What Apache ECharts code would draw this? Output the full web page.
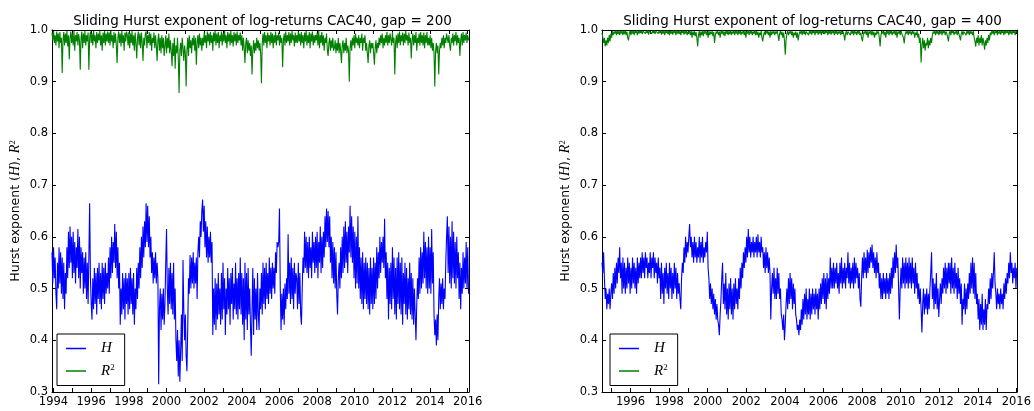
<!DOCTYPE html>
<html><head><meta charset="utf-8">
<script src="https://cdn.jsdelivr.net/npm/echarts@6/dist/echarts.min.js"></script>
<style>html,body{margin:0;padding:0;background:#fff}#c{width:1034px;height:411px}</style>
</head><body><div id="c"></div>
<script>
// time grid: first sample (decimal year) and half-month step
const start200 = 1993.92;
const start400 = 1994.52;
const stepYears = 1 / 24;
const titles = ['Sliding Hurst exponent of log-returns CAC40, gap = 200',
                'Sliding Hurst exponent of log-returns CAC40, gap = 400'];
const seriesNames = ['H', 'R2'];

// Hurst exponent, gap = 200 (one row per year, starting 1993.92)
const h200 = [
 0.57,0.51,0.58,0.52,0.56,0.49,0.46,0.55,0.50,0.58,0.51,0.57,0.49,0.56,0.48,0.55,0.46,0.53,0.49,0.58,0.52,0.61,0.54,0.62,
 0.55,0.60,0.52,0.61,0.53,0.59,0.51,0.58,0.54,0.615,0.52,0.60,0.50,0.58,0.53,0.57,0.49,0.56,0.50,0.57,0.48,0.55,0.47,0.56,
 0.665,0.52,0.47,0.44,0.52,0.46,0.54,0.47,0.53,0.45,0.54,0.48,0.55,0.47,0.53,0.46,0.55,0.48,0.54,0.47,0.55,0.49,0.53,0.50,
 0.56,0.49,0.58,0.52,0.60,0.53,0.59,0.55,0.625,0.54,0.61,0.52,0.58,0.50,0.55,0.43,0.50,0.45,0.53,0.46,0.52,0.44,0.53,0.47,
 0.52,0.45,0.53,0.46,0.54,0.47,0.52,0.45,0.53,0.43,0.50,0.46,0.54,0.48,0.55,0.50,0.58,0.52,0.60,0.54,0.62,0.56,0.63,0.58,
 0.665,0.59,0.66,0.58,0.64,0.56,0.60,0.53,0.57,0.51,0.56,0.52,0.57,0.51,0.55,0.52,0.315,0.46,0.50,0.42,0.49,0.44,0.50,0.43,
 0.47,0.55,0.615,0.50,0.45,0.54,0.47,0.55,0.46,0.53,0.45,0.55,0.44,0.50,0.40,0.36,0.42,0.33,0.40,0.32,0.38,0.45,0.36,0.555,
 0.46,0.40,0.45,0.37,0.34,0.42,0.52,0.49,0.565,0.50,0.56,0.51,0.57,0.50,0.55,0.51,0.56,0.48,0.57,0.60,0.56,0.63,0.60,0.65,
 0.672,0.61,0.66,0.58,0.63,0.56,0.62,0.55,0.60,0.56,0.61,0.55,0.59,0.41,0.50,0.43,0.52,0.42,0.51,0.44,0.53,0.45,0.50,0.43,
 0.53,0.44,0.55,0.46,0.52,0.41,0.50,0.45,0.54,0.46,0.52,0.43,0.53,0.47,0.54,0.44,0.51,0.46,0.55,0.45,0.52,0.44,0.53,0.46,
 0.56,0.45,0.53,0.43,0.52,0.40,0.55,0.44,0.53,0.42,0.54,0.45,0.50,0.43,0.37,0.46,0.54,0.41,0.52,0.44,0.50,0.42,0.53,0.45,
 0.42,0.50,0.46,0.53,0.45,0.55,0.47,0.54,0.46,0.55,0.48,0.53,0.47,0.56,0.49,0.54,0.48,0.55,0.50,0.54,0.49,0.57,0.53,0.59,
 0.58,0.59,0.655,0.50,0.42,0.49,0.44,0.50,0.43,0.51,0.46,0.52,0.48,0.605,0.49,0.55,0.47,0.56,0.48,0.54,0.46,0.55,0.49,0.53,
 0.52,0.46,0.55,0.47,0.53,0.45,0.43,0.50,0.56,0.53,0.61,0.54,0.60,0.53,0.59,0.52,0.60,0.54,0.58,0.52,0.61,0.55,0.59,0.53,
 0.60,0.54,0.61,0.52,0.59,0.55,0.62,0.53,0.60,0.54,0.61,0.56,0.64,0.58,0.655,0.59,0.65,0.58,0.64,0.55,0.60,0.52,0.59,0.51,
 0.58,0.50,0.57,0.49,0.45,0.52,0.55,0.50,0.58,0.52,0.60,0.53,0.62,0.54,0.63,0.55,0.61,0.53,0.62,0.57,0.66,0.56,0.64,0.55,
 0.62,0.52,0.61,0.50,0.60,0.51,0.64,0.50,0.58,0.48,0.56,0.47,0.57,0.46,0.55,0.48,0.56,0.47,0.55,0.46,0.54,0.45,0.56,0.47,
 0.54,0.46,0.56,0.47,0.55,0.48,0.58,0.50,0.57,0.52,0.60,0.53,0.59,0.55,0.60,0.54,0.635,0.52,0.57,0.48,0.55,0.44,0.54,0.47,
 0.55,0.46,0.58,0.48,0.56,0.45,0.54,0.44,0.56,0.47,0.57,0.46,0.55,0.45,0.56,0.43,0.53,0.47,0.55,0.45,0.54,0.44,0.52,0.46,
 0.55,0.45,0.53,0.44,0.52,0.43,0.50,0.45,0.40,0.47,0.52,0.48,0.56,0.49,0.58,0.50,0.57,0.51,0.61,0.52,0.59,0.50,0.58,0.49,
 0.60,0.50,0.58,0.49,0.615,0.51,0.57,0.45,0.41,0.44,0.39,0.45,0.40,0.48,0.52,0.46,0.51,0.47,0.52,0.46,0.50,0.48,0.55,0.60,
 0.64,0.53,0.62,0.51,0.60,0.50,0.63,0.52,0.61,0.51,0.59,0.50,0.60,0.52,0.57,0.48,0.55,0.46,0.54,0.49,0.57,0.50,0.56,0.51,
 0.59,0.50,0.58,0.49
];
// R^2, gap = 200
const r2_200 = [
 0.995,0.98,0.998,0.975,0.99,0.97,0.997,0.978,0.993,0.965,0.996,0.975,0.985,0.917,0.98,0.996,0.97,0.993,0.975,0.998,0.968,0.99,0.943,0.985,
 0.997,0.975,0.993,0.97,0.998,0.96,0.99,0.978,0.996,0.97,0.992,0.98,0.923,0.985,0.997,0.965,0.993,0.975,0.998,0.97,0.99,0.978,0.995,0.923,
 0.985,0.997,0.975,0.993,0.97,0.998,0.978,0.99,0.965,0.996,0.975,0.993,0.98,0.998,0.97,0.99,0.96,0.995,0.975,0.998,0.97,0.993,0.978,0.997,
 0.975,0.995,0.97,0.998,0.978,0.99,0.965,0.996,0.975,0.993,0.97,0.936,0.985,0.997,0.975,0.993,0.968,0.998,0.975,0.99,0.96,0.995,0.978,0.997,
 0.99,0.97,0.996,0.965,0.993,0.975,0.998,0.97,0.99,0.96,0.995,0.975,0.945,0.985,0.997,0.97,0.993,0.965,0.995,0.975,0.94,0.985,0.97,0.993,
 0.997,0.965,0.99,0.975,0.996,0.97,0.993,0.96,0.985,0.975,0.995,0.965,0.99,0.97,0.94,0.98,0.993,0.96,0.985,0.955,0.99,0.965,0.985,0.95,
 0.97,0.99,0.955,0.985,0.965,0.993,0.955,0.98,0.96,0.93,0.975,0.95,0.985,0.925,0.97,0.955,0.985,0.945,0.878,0.96,0.975,0.95,0.985,0.965,
 0.94,0.97,0.955,0.891,0.96,0.985,0.95,0.99,0.965,0.98,0.955,0.985,0.97,0.99,0.96,0.985,0.933,0.975,0.99,0.965,0.993,0.97,0.985,0.96,
 0.985,0.97,0.995,0.975,0.99,0.965,0.997,0.978,0.993,0.97,0.996,0.975,0.99,0.96,0.995,0.978,0.998,0.97,0.993,0.975,0.996,0.965,0.99,0.978,
 0.997,0.97,0.993,0.978,0.998,0.975,0.99,0.965,0.996,0.978,0.993,0.97,0.998,0.975,0.99,0.968,0.996,0.978,0.993,0.97,0.997,0.975,0.99,0.98,
 0.995,0.97,0.99,0.96,0.985,0.965,0.936,0.975,0.985,0.955,0.98,0.96,0.975,0.95,0.97,0.914,0.96,0.98,0.955,0.975,0.96,0.985,0.965,0.98,
 0.96,0.975,0.955,0.897,0.975,0.993,0.97,0.996,0.975,0.99,0.965,0.995,0.978,0.99,0.97,0.996,0.975,0.993,0.965,0.99,0.975,0.997,0.97,0.99,
 0.98,0.995,0.97,0.99,0.975,0.985,0.928,0.98,0.993,0.97,0.997,0.975,0.99,0.978,0.996,0.97,0.993,0.975,0.998,0.98,0.99,0.968,0.995,0.975,
 0.99,0.975,0.997,0.978,0.993,0.97,0.996,0.975,0.99,0.965,0.995,0.978,0.998,0.97,0.99,0.975,0.996,0.965,0.993,0.978,0.997,0.97,0.99,0.975,
 0.99,0.98,0.995,0.97,0.998,0.965,0.99,0.975,0.996,0.97,0.99,0.96,0.985,0.975,0.993,0.96,0.95,0.975,0.985,0.96,0.98,0.965,0.985,0.96,
 0.965,0.98,0.955,0.975,0.96,0.985,0.955,0.975,0.96,0.936,0.97,0.98,0.955,0.975,0.96,0.985,0.955,0.97,0.96,0.9,0.965,0.98,0.96,0.985,
 0.97,0.99,0.965,0.993,0.975,0.985,0.97,0.99,0.965,0.985,0.975,0.993,0.96,0.985,0.975,0.99,0.96,0.975,0.955,0.936,0.97,0.98,0.955,0.975,
 0.965,0.975,0.955,0.933,0.965,0.98,0.955,0.975,0.965,0.985,0.97,0.99,0.975,0.993,0.965,0.985,0.97,0.99,0.975,0.996,0.97,0.99,0.975,0.993,
 0.99,0.97,0.996,0.975,0.985,0.914,0.975,0.99,0.965,0.993,0.975,0.997,0.97,0.99,0.978,0.995,0.97,0.993,0.975,0.998,0.98,0.99,0.97,0.995,
 0.975,0.985,0.945,0.98,0.993,0.97,0.99,0.975,0.996,0.96,0.985,0.975,0.993,0.97,0.996,0.975,0.99,0.97,0.995,0.965,0.99,0.975,0.996,0.97,
 0.985,0.97,0.99,0.965,0.985,0.96,0.975,0.955,0.891,0.96,0.975,0.955,0.97,0.914,0.96,0.975,0.965,0.985,0.97,0.99,0.965,0.985,0.975,0.993,
 0.995,0.975,0.99,0.97,0.96,0.985,0.975,0.993,0.97,0.99,0.978,0.996,0.97,0.99,0.975,0.985,0.95,0.98,0.993,0.97,0.996,0.975,0.99,0.98,
 0.995,0.975,0.99,0.98
];
// Hurst exponent, gap = 400 (one row per year, starting 1994.52)
const h400 = [
 0.55,0.53,0.57,0.52,0.48,0.50,0.46,0.49,0.47,0.50,0.46,0.49,0.51,0.48,0.53,0.49,0.54,0.50,0.55,0.51,0.56,0.53,0.58,0.52,
 0.55,0.49,0.56,0.50,0.55,0.49,0.54,0.50,0.56,0.51,0.55,0.49,0.54,0.50,0.56,0.51,0.55,0.50,0.54,0.49,0.56,0.51,0.55,0.52,
 0.56,0.52,0.57,0.53,0.56,0.52,0.57,0.54,0.56,0.52,0.55,0.53,0.57,0.52,0.56,0.54,0.57,0.52,0.56,0.53,0.55,0.51,0.56,0.52,
 0.54,0.48,0.55,0.49,0.53,0.47,0.54,0.50,0.55,0.49,0.53,0.48,0.55,0.50,0.54,0.48,0.53,0.49,0.55,0.50,0.54,0.48,0.53,0.49,
 0.51,0.48,0.46,0.52,0.55,0.53,0.58,0.55,0.60,0.56,0.59,0.57,0.60,0.625,0.58,0.60,0.56,0.59,0.55,0.60,0.56,0.59,0.55,0.58,
 0.56,0.60,0.55,0.59,0.56,0.60,0.55,0.58,0.56,0.59,0.57,0.61,0.54,0.52,0.48,0.51,0.47,0.50,0.46,0.49,0.45,0.48,0.44,0.47,
 0.44,0.43,0.41,0.45,0.48,0.52,0.55,0.47,0.51,0.46,0.53,0.45,0.50,0.44,0.51,0.46,0.52,0.45,0.50,0.44,0.51,0.46,0.52,0.47,
 0.50,0.46,0.52,0.48,0.54,0.50,0.55,0.52,0.57,0.54,0.58,0.55,0.60,0.56,0.615,0.57,0.60,0.56,0.59,0.57,0.60,0.56,0.59,0.57,
 0.60,0.56,0.605,0.57,0.59,0.56,0.60,0.57,0.58,0.54,0.57,0.53,0.58,0.54,0.57,0.53,0.56,0.53,0.44,0.50,0.53,0.49,0.54,0.48,
 0.52,0.48,0.54,0.49,0.53,0.48,0.50,0.45,0.44,0.42,0.45,0.40,0.43,0.47,0.50,0.46,0.52,0.47,0.53,0.48,0.52,0.46,0.51,0.47,
 0.50,0.45,0.44,0.42,0.43,0.41,0.44,0.42,0.46,0.43,0.48,0.44,0.49,0.45,0.50,0.44,0.48,0.45,0.50,0.44,0.49,0.45,0.50,0.46,
 0.49,0.45,0.50,0.46,0.49,0.44,0.50,0.46,0.51,0.47,0.52,0.48,0.53,0.47,0.52,0.46,0.53,0.48,0.52,0.49,0.56,0.50,0.54,0.50,
 0.55,0.50,0.54,0.51,0.55,0.50,0.53,0.49,0.55,0.51,0.56,0.50,0.54,0.51,0.55,0.50,0.54,0.52,0.57,0.51,0.55,0.50,0.54,0.51,
 0.55,0.50,0.56,0.51,0.55,0.52,0.54,0.50,0.53,0.48,0.465,0.52,0.56,0.52,0.57,0.53,0.56,0.52,0.575,0.53,0.57,0.54,0.58,0.55,
 0.585,0.54,0.57,0.53,0.56,0.52,0.57,0.53,0.55,0.50,0.53,0.48,0.52,0.48,0.53,0.49,0.52,0.48,0.53,0.49,0.52,0.48,0.53,0.49,
 0.54,0.50,0.56,0.52,0.57,0.53,0.585,0.54,0.56,0.50,0.44,0.50,0.54,0.50,0.56,0.51,0.55,0.50,0.56,0.51,0.55,0.50,0.56,0.51,
 0.55,0.50,0.56,0.51,0.54,0.49,0.55,0.50,0.53,0.48,0.51,0.47,0.50,0.46,0.415,0.47,0.50,0.45,0.49,0.46,0.50,0.45,0.49,0.46,
 0.50,0.53,0.57,0.48,0.52,0.46,0.51,0.47,0.53,0.46,0.50,0.445,0.48,0.51,0.47,0.52,0.49,0.54,0.50,0.55,0.49,0.54,0.50,0.55,
 0.51,0.55,0.49,0.56,0.50,0.54,0.49,0.55,0.50,0.53,0.48,0.54,0.49,0.52,0.47,0.51,0.43,0.48,0.46,0.51,0.45,0.50,0.46,0.51,
 0.48,0.53,0.49,0.55,0.50,0.56,0.49,0.55,0.48,0.53,0.47,0.49,0.44,0.48,0.42,0.47,0.43,0.49,0.42,0.46,0.43,0.48,0.42,0.47,
 0.46,0.50,0.47,0.52,0.48,0.53,0.50,0.53,0.57,0.51,0.49,0.46,0.50,0.47,0.49,0.46,0.50,0.47,0.49,0.46,0.51,0.48,0.52,0.49,
 0.53,0.51,0.55,0.52,0.57,0.53,0.55,0.51,0.54,0.52,0.55,0.50,0.54
];
// R^2, gap = 400
const r2_400 = [
 0.995,0.985,0.975,0.985,0.968,0.98,0.97,0.985,0.975,0.99,0.978,0.993,0.985,0.998,0.99,0.997,0.993,0.999,0.99,0.998,0.992,0.999,0.99,0.998,
 0.993,0.999,0.99,0.998,0.992,0.999,0.99,0.997,0.985,0.98,0.993,0.999,0.99,0.998,0.993,0.999,0.99,0.998,0.994,0.999,0.99,0.998,0.993,0.999,
 0.994,0.999,0.992,0.998,0.995,0.999,0.993,0.998,0.994,0.999,0.991,0.998,0.995,0.999,0.993,0.998,0.994,0.999,0.992,0.998,0.995,0.999,0.993,0.998,
 0.994,0.999,0.991,0.998,0.993,0.999,0.99,0.998,0.994,0.999,0.992,0.998,0.99,0.999,0.993,0.998,0.991,0.999,0.994,0.998,0.99,0.999,0.993,0.998,
 0.992,0.999,0.99,0.998,0.994,0.999,0.991,0.998,0.993,0.999,0.99,0.997,0.993,0.999,0.99,0.998,0.985,0.997,0.99,0.998,0.988,0.996,0.985,0.968,
 0.99,0.998,0.985,0.997,0.99,0.999,0.988,0.998,0.993,0.999,0.99,0.997,0.985,0.998,0.99,0.997,0.992,0.998,0.988,0.996,0.975,0.99,0.997,0.993,
 0.998,0.99,0.997,0.985,0.998,0.993,0.999,0.99,0.997,0.988,0.998,0.993,0.999,0.99,0.998,0.992,0.999,0.99,0.997,0.993,0.999,0.99,0.998,0.993,
 0.999,0.99,0.998,0.993,0.999,0.99,0.997,0.993,0.999,0.99,0.998,0.985,0.997,0.993,0.999,0.99,0.998,0.993,0.999,0.99,0.997,0.993,0.999,0.99,
 0.998,0.99,0.997,0.985,0.995,0.99,0.998,0.985,0.978,0.99,0.997,0.99,0.998,0.993,0.999,0.99,0.997,0.985,0.998,0.99,0.997,0.993,0.998,0.99,
 0.997,0.993,0.998,0.99,0.979,0.993,0.998,0.99,0.997,0.985,0.995,0.98,0.952,0.98,0.993,0.998,0.99,0.997,0.993,0.999,0.99,0.997,0.985,0.995,
 0.99,0.997,0.985,0.995,0.98,0.99,0.997,0.993,0.999,0.99,0.998,0.993,0.999,0.99,0.997,0.994,0.999,0.99,0.998,0.993,0.999,0.991,0.998,0.994,
 0.999,0.99,0.998,0.994,0.999,0.991,0.998,0.993,0.999,0.99,0.998,0.994,0.999,0.992,0.998,0.994,0.999,0.99,0.998,0.993,0.999,0.991,0.998,0.994,
 0.999,0.99,0.998,0.993,0.999,0.991,0.997,0.993,0.999,0.99,0.998,0.993,0.997,0.99,0.98,0.993,0.998,0.99,0.997,0.994,0.999,0.99,0.998,0.993,
 0.999,0.99,0.998,0.993,0.997,0.99,0.999,0.993,0.998,0.99,0.995,0.985,0.978,0.99,0.997,0.993,0.999,0.99,0.998,0.985,0.997,0.993,0.999,0.99,
 0.998,0.99,0.997,0.985,0.995,0.99,0.998,0.993,0.997,0.985,0.968,0.99,0.997,0.993,0.998,0.99,0.997,0.985,0.998,0.993,0.999,0.99,0.998,0.993,
 0.999,0.99,0.997,0.993,0.999,0.99,0.998,0.985,0.997,0.993,0.999,0.99,0.998,0.993,0.995,0.985,0.974,0.99,0.997,0.993,0.999,0.99,0.998,0.993,
 0.997,0.99,0.998,0.993,0.997,0.985,0.995,0.99,0.998,0.985,0.993,0.975,0.985,0.937,0.97,0.985,0.965,0.98,0.96,0.975,0.97,0.985,0.965,0.98,
 0.97,0.985,0.975,0.99,0.997,0.993,0.999,0.99,0.998,0.993,0.999,0.99,0.997,0.993,0.999,0.99,0.998,0.994,0.999,0.99,0.997,0.993,0.99,0.978,
 0.993,0.999,0.99,0.998,0.994,0.999,0.99,0.997,0.993,0.999,0.99,0.998,0.993,0.99,0.98,0.993,0.998,0.99,0.997,0.994,0.999,0.99,0.998,0.993,
 0.999,0.99,0.998,0.993,0.997,0.99,0.998,0.985,0.978,0.968,0.985,0.975,0.99,0.97,0.985,0.975,0.99,0.97,0.985,0.975,0.962,0.98,0.97,0.985,
 0.975,0.99,0.98,0.995,0.99,0.998,0.993,0.999,0.99,0.998,0.994,0.999,0.99,0.997,0.993,0.999,0.991,0.998,0.994,0.999,0.99,0.998,0.993,0.999,
 0.994,0.999,0.99,0.998,0.993,0.999,0.991,0.998,0.994,0.999,0.99,0.998,0.995
];

function pairs(start, arr) { return arr.map((v, i) => [start + i * stepYears, v]); }

const FONT = 'DejaVu Sans';
const mathRich = {
  i: { fontStyle: 'italic', fontFamily: 'Liberation Serif', fontSize: 15, color: '#000' },
  s: { fontFamily: 'Liberation Serif', fontSize: 9, color: '#000', verticalAlign: 'bottom', padding: [0, 0, 7, 0] }
};
const axisRich = {
  i: { fontStyle: 'italic', fontFamily: 'Liberation Serif', fontSize: 14, color: '#000' },
  s: { fontFamily: 'Liberation Serif', fontSize: 8.5, color: '#000', verticalAlign: 'bottom', padding: [0, 0, 6, 0] }
};
const grids = [
  { left: 52, top: 30, width: 417, height: 362 },
  { left: 602, top: 30, width: 417, height: 362 }
];
const xRanges = [[1993.92, 2016.07, 22], [1994.52, 2016.03, 21]];

const lineBlack = { show: true, lineStyle: { color: '#000', width: 1 } };
const tickIn = { show: true, inside: true, length: 4, lineStyle: { color: '#000', width: 1 } };

function yearLabel(v) {
  const r = Math.round(v);
  return (Math.abs(v - r) < 1e-6 && r % 2 === 0) ? String(r) : '';
}

const xAxes = [], yAxes = [];
[0, 1].forEach(g => {
  const [mn, mx, sp] = xRanges[g];
  xAxes.push({ type: 'value', gridIndex: g, min: mn, max: mx, splitNumber: sp, position: 'bottom',
    axisLine: lineBlack, axisTick: tickIn, splitLine: { show: false },
    axisLabel: { formatter: yearLabel, color: '#000', fontFamily: FONT, fontSize: 11.5, margin: 4, showMinLabel: true, showMaxLabel: true } });
  xAxes.push({ type: 'value', gridIndex: g, min: mn, max: mx, splitNumber: sp, position: 'top',
    axisLine: lineBlack, axisTick: tickIn, splitLine: { show: false }, axisLabel: { show: false } });
  yAxes.push({ type: 'value', gridIndex: g, min: 0.3, max: 1.0, interval: 0.1, position: 'left',
    axisLine: lineBlack, axisTick: tickIn, splitLine: { show: false },
    axisLabel: { formatter: v => v.toFixed(1), color: '#000', fontFamily: FONT, fontSize: 11.5, margin: 4 },
    name: 'Hurst exponent ({i|H}), {i|R}{s|2}', nameLocation: 'middle', nameGap: 29, nameRotate: 90,
    nameTextStyle: { color: '#000', fontFamily: FONT, fontSize: 12.5, rich: axisRich } });
  yAxes.push({ type: 'value', gridIndex: g, min: 0.3, max: 1.0, interval: 0.1, position: 'right',
    axisLine: lineBlack, axisTick: tickIn, splitLine: { show: false }, axisLabel: { show: false } });
});

function lineSeries(name, data, color, g) {
  return { type: 'line', name, data, xAxisIndex: g * 2, yAxisIndex: g * 2, showSymbol: false, symbol: 'none',
    lineStyle: { color, width: 1.1 }, itemStyle: { color }, animation: false, z: name === 'H' ? 3 : 2 };
}

function legendAt(left) {
  return { data: seriesNames, left, top: 334, orient: 'vertical', selectedMode: false,
    icon: 'rect', itemWidth: 20, itemHeight: 1.5, itemGap: 7,
    padding: [7, 10, 7, 9], borderColor: '#000', borderWidth: 1, backgroundColor: '#fff', borderRadius: 0,
    formatter: n => n === 'H' ? '{i|H}' : '{i|R}{s|2}',
    textStyle: { color: '#000', fontFamily: FONT, fontSize: 14, padding: [0, 0, 0, 10], rich: mathRich } };
}

const option = {
  backgroundColor: '#fff',
  animation: false,
  title: titles.map((t, g) => ({ text: t, left: grids[g].left + grids[g].width / 2 - 3, textAlign: 'center', top: 9,
    textStyle: { fontFamily: FONT, fontSize: 13.5, fontWeight: 'normal', color: '#000' } })),
  grid: grids,
  xAxis: xAxes,
  yAxis: yAxes,
  legend: [legendAt(57), legendAt(610)],
  series: [
    lineSeries('H', pairs(start200, h200), '#0000ff', 0),
    lineSeries('R2', pairs(start200, r2_200), '#008000', 0),
    lineSeries('H', pairs(start400, h400), '#0000ff', 1),
    lineSeries('R2', pairs(start400, r2_400), '#008000', 1)
  ]
};
const chart = echarts.init(document.getElementById('c'));
chart.setOption(option);
</script></body></html>
